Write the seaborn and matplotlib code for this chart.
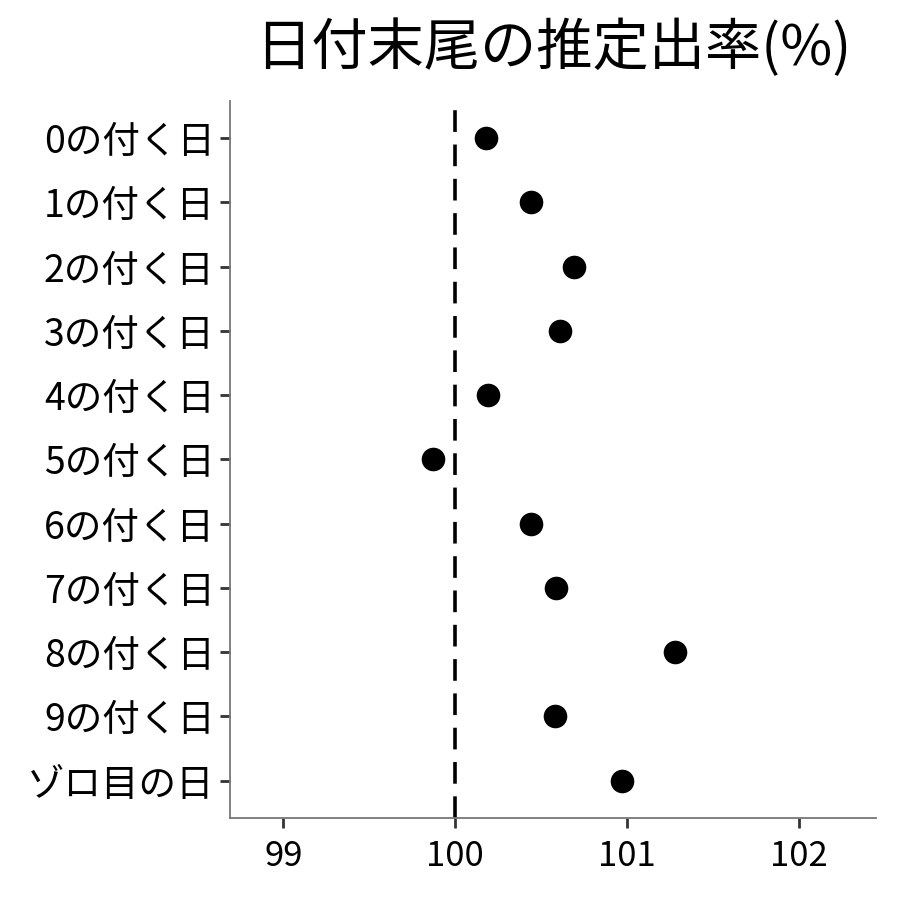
import seaborn as sns
import matplotlib.pyplot as plt
import pandas as pd

# 推定出率(%)
labels = ['0の付く日', '1の付く日', '2の付く日', '3の付く日', '4の付く日', '5の付く日',
          '6の付く日', '7の付く日', '8の付く日', '9の付く日', 'ゾロ目の日']
rates = [100.18, 100.44, 100.69, 100.61, 100.19, 99.87,
         100.44, 100.59, 101.28, 100.58, 100.97]
x_ticks = [99, 100, 101, 102]

df = pd.DataFrame({'day': labels, 'rate': rates})

sns.set_style('white')
plt.rcParams['font.family'] = ['Noto Sans CJK JP', 'DejaVu Sans']
plt.rcParams['text.color'] = 'black'
plt.rcParams['xtick.labelcolor'] = 'black'
plt.rcParams['ytick.labelcolor'] = 'black'

fig = plt.figure(figsize=(9, 9), dpi=100)
ax = fig.add_axes([0.2556, 0.0911, 0.7177, 0.7967])

ax.axvline(100, color='black', lw=2.6, ls=(0, (6, 3.5)), zorder=1)
sns.stripplot(data=df, x='rate', y='day', order=labels, jitter=False,
              color='black', size=17, ax=ax, zorder=3)

ax.set_xlim(98.69, 102.45)
ax.set_ylim(len(labels) - 0.42, -0.58)
ax.set_xticks(x_ticks)
ax.set_xticklabels([str(t) for t in x_ticks])
ax.set_xlabel('')
ax.set_ylabel('')
ax.tick_params(axis='y', labelsize=27, length=7, width=2, color='#333333', pad=4,
               left=True)
ax.tick_params(axis='x', labelsize=25, length=7, width=2, color='#333333', pad=8,
               bottom=True)

sns.despine(ax=ax)
for side in ['left', 'bottom']:
    ax.spines[side].set_color('#777777')
    ax.spines[side].set_linewidth(1.3)

ax.set_title('日付末尾の推定出率(%)', fontsize=40.5, pad=26, color='black')

fig.savefig('out.png', dpi=100)
